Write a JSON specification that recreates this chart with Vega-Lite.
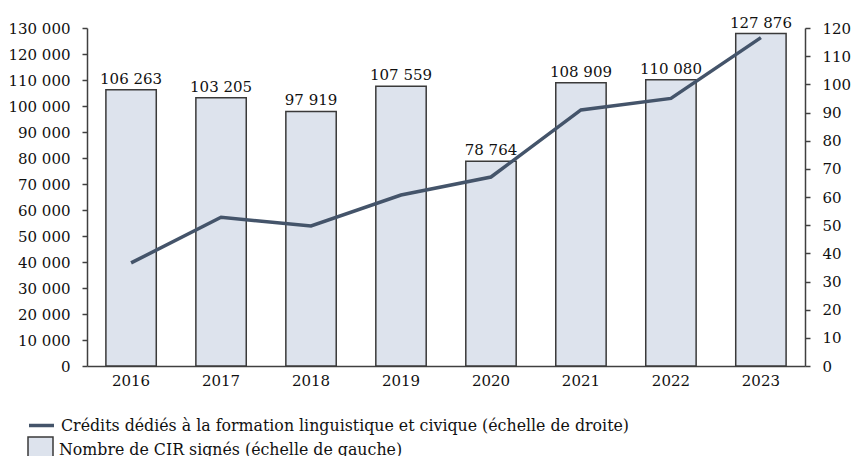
{
  "$schema": "https://vega.github.io/schema/vega-lite/v6.json",
  "width": 718,
  "height": 338,
  "autosize": {"type": "none"},
  "padding": {"left": 87, "top": 28, "right": 47, "bottom": 90},
  "config": {
    "font": "DejaVu Serif",
    "view": {"stroke": null},
    "locale": {"number": {"decimal": ",", "thousands": " ", "grouping": [3], "currency": ["", " €"]}},
    "axis": {
      "grid": false,
      "domainColor": "#404040",
      "domainWidth": 1.5,
      "tickColor": "#404040",
      "tickWidth": 1.5,
      "tickSize": 5,
      "labelFontSize": 15,
      "labelColor": "#111111",
      "labelFont": "DejaVu Serif",
      "labelOverlap": false,
      "title": null
    },
    "legend": {
      "labelFontSize": 15.8,
      "labelColor": "#111111",
      "labelFont": "DejaVu Serif",
      "labelLimit": 0,
      "padding": 0,
      "labelOffset": 5
    }
  },
  "data": {
    "values": [
      {"year": "2016", "cir": 106263, "credits": 36.6},
      {"year": "2017", "cir": 103205, "credits": 52.8},
      {"year": "2018", "cir": 97919, "credits": 49.7},
      {"year": "2019", "cir": 107559, "credits": 60.7},
      {"year": "2020", "cir": 78764, "credits": 67.1},
      {"year": "2021", "cir": 108909, "credits": 90.9},
      {"year": "2022", "cir": 110080, "credits": 95.0},
      {"year": "2023", "cir": 127876, "credits": 116.6}
    ]
  },
  "encoding": {
    "x": {
      "field": "year",
      "type": "ordinal",
      "scale": {"paddingInner": 0.44, "paddingOuter": 0.21},
      "axis": {"labelAngle": 0, "ticks": false, "labelPadding": 7, "title": null}
    }
  },
  "layer": [
    {
      "encoding": {
        "y": {
          "field": "cir",
          "type": "quantitative",
          "scale": {"domain": [0, 130000], "nice": false},
          "axis": {
            "orient": "left",
            "values": [0, 10000, 20000, 30000, 40000, 50000, 60000, 70000, 80000, 90000, 100000, 110000, 120000, 130000],
            "format": ",d",
            "labelPadding": 12,
            "labelOverlap": false,
            "title": null
          }
        }
      },
      "layer": [
        {
          "mark": {"type": "bar", "stroke": "#3a3a3a", "strokeWidth": 1.5},
          "encoding": {
            "fill": {
              "datum": "Nombre de CIR signés (échelle de gauche)",
              "type": "nominal",
              "scale": {"range": ["#dde3ed"]},
              "legend": {
                "title": null,
                "orient": "none",
                "legendX": -60,
                "legendY": 408,
                "symbolType": "square",
                "symbolSize": 625,
                "symbolStrokeColor": "#3a3a3a",
                "symbolStrokeWidth": 1.5,
                "symbolFillColor": "#dde3ed"
              }
            }
          }
        },
        {
          "mark": {"type": "text", "baseline": "alphabetic", "dy": -6, "fontSize": 15, "color": "#111111", "font": "DejaVu Serif"},
          "encoding": {
            "text": {"field": "cir", "type": "quantitative", "format": ",d"}
          }
        }
      ]
    },
    {
      "mark": {"type": "line", "strokeWidth": 3.5},
      "encoding": {
        "y": {
          "field": "credits",
          "type": "quantitative",
          "scale": {"domain": [0, 120], "nice": false},
          "axis": {
            "orient": "right",
            "values": [0, 10, 20, 30, 40, 50, 60, 70, 80, 90, 100, 110, 120],
            "labelPadding": 12,
            "labelOverlap": false,
            "title": null
          }
        },
        "stroke": {
          "datum": "Crédits dédiés à la formation linguistique  et civique (échelle de droite)",
          "type": "nominal",
          "scale": {"range": ["#44546a"]},
          "legend": {
            "title": null,
            "orient": "none",
            "legendX": -60,
            "legendY": 383,
            "symbolType": "stroke",
            "symbolSize": 625,
            "symbolStrokeWidth": 3.5,
            "symbolStrokeColor": "#44546a"
          }
        }
      }
    }
  ],
  "resolve": {"scale": {"y": "independent"}}
}
